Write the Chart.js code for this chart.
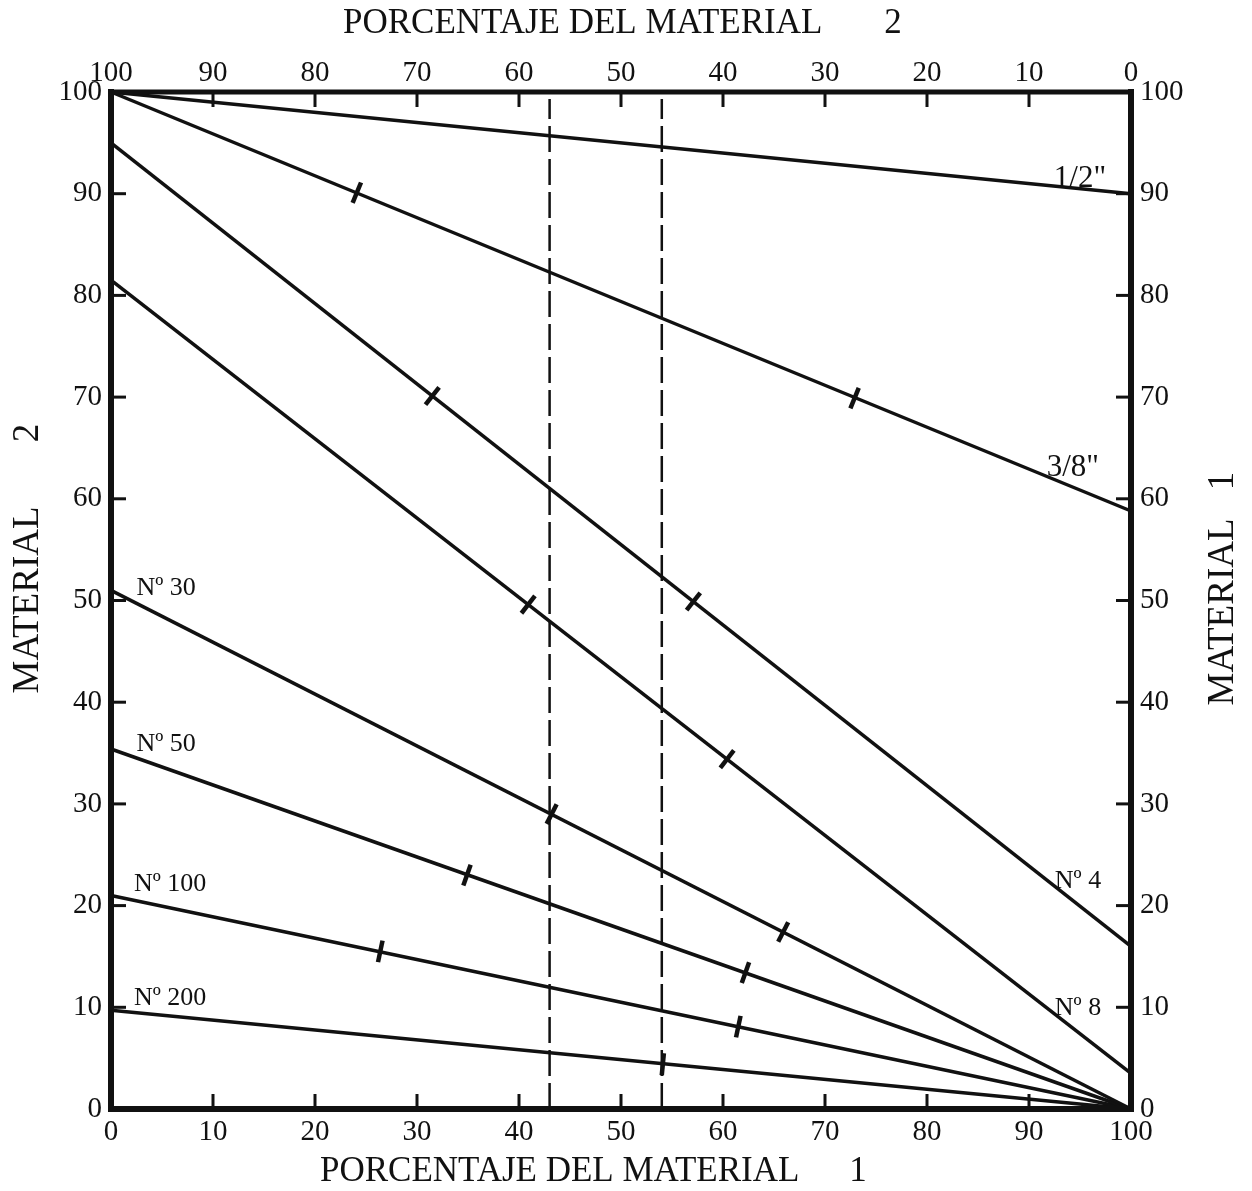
<!DOCTYPE html>
<html>
<head>
<meta charset="utf-8">
<script src="https://cdn.jsdelivr.net/npm/chart.js@4.4.1/dist/chart.umd.min.js"></script>
<style>
  html, body { margin: 0; padding: 0; background: #fff; }
  #chart { display: block; }
</style>
</head>
<body>
<canvas id="chart" width="1252" height="1191"></canvas>
<script>
// Percent scale shared by every axis
const axisTicks = [0, 10, 20, 30, 40, 50, 60, 70, 80, 90, 100];

// Sieves and % passing of the blend: at 0 % of material 1 (left) and at 100 % (right)
const sieves      = ['1/2"', '3/8"', 'Nº 4', 'Nº 8', 'Nº 30', 'Nº 50', 'Nº 100', 'Nº 200'];
const passingLeft  = [100, 100, 95, 81.5, 51, 35.4, 21, 9.7];
const passingRight = [90, 58.8, 16, 3.5, 0, 0, 0, 0];

// Check marks placed on each sieve line (% of material 1, % passing)
const markX = [[], [24.1, 72.9], [31.5, 57.1], [40.9, 60.4], [43.2, 65.9], [34.9, 62.2], [26.4, 61.5], [54.1]];
const markY = [[], [90.1, 69.9], [70.1, 49.9], [49.6, 34.4], [29.0, 17.4], [23.0, 13.4], [15.5, 8.1], [4.4]];

// Limits of the acceptable blend (% of material 1)
const blendLimits = [43, 54];
const limitTop = 99.3;

const INK = '#111';
const SERIF = '"Liberation Serif", "Times New Roman", serif';

// Where each sieve name sits, in axis units
const labelAnchors = [
  [95.0, 91.5], [94.3, 63.0], [94.8, 22.4], [94.8, 9.9],
  [5.4, 51.2], [5.4, 35.9], [5.8, 22.1], [5.8, 10.9]
];
const labelSizes = [31, 31, 26, 26, 26, 26, 26, 26];

const datasets = [];
sieves.forEach((name, i) => {
  datasets.push({
    label: name,
    data: [{ x: 0, y: passingLeft[i] }, { x: 100, y: passingRight[i] }],
    showLine: true,
    borderColor: INK,
    borderWidth: 3.5,
    pointRadius: 0,
    clip: 6
  });
  if (markX[i].length) {
    // short stroke across the line, roughly perpendicular to it
    const drop = Math.atan((passingLeft[i] - passingRight[i]) / 100) * 180 / Math.PI;
    datasets.push({
      label: name + ' marks',
      data: markX[i].map((x, k) => ({ x, y: markY[i][k] })),
      showLine: false,
      pointStyle: 'line',
      rotation: drop - 90,
      pointRadius: 11,
      borderWidth: 4.5,
      borderColor: INK,
      backgroundColor: INK
    });
  }
});
blendLimits.forEach(x => {
  datasets.push({
    label: 'limit ' + x,
    data: [{ x, y: 0 }, { x, y: limitTop }],
    showLine: true,
    borderColor: INK,
    borderWidth: 2.5,
    borderDash: [26, 7],
    pointRadius: 0
  });
});

const tickFont = { family: SERIF, size: 29 };

function axis(position, extra) {
  return Object.assign({
    type: 'linear',
    position,
    min: 0,
    max: 100,
    grid: { display: false, drawTicks: false },
    border: { display: false },
    ticks: { stepSize: 10, font: tickFont, color: INK, autoSkip: false, maxRotation: 0 },
    afterBuildTicks: s => { s.ticks = axisTicks.map(v => ({ value: v })); }
  }, extra);
}

const framePlugin = {
  id: 'frameAndText',
  afterDraw(chart) {
    const { ctx, chartArea: a, scales } = chart;
    const { x, x2, y, y2 } = scales;
    ctx.save();
    ctx.strokeStyle = INK;
    ctx.fillStyle = INK;

    // inward tick marks on all four sides
    ctx.lineWidth = 3;
    const T = 15;
    axisTicks.slice(1, -1).forEach(v => {
      let p = x.getPixelForValue(v);
      ctx.beginPath(); ctx.moveTo(p, a.bottom); ctx.lineTo(p, a.bottom - T); ctx.stroke();
      p = x2.getPixelForValue(v);
      ctx.beginPath(); ctx.moveTo(p, a.top); ctx.lineTo(p, a.top + T); ctx.stroke();
      p = y.getPixelForValue(v);
      ctx.beginPath(); ctx.moveTo(a.left, p); ctx.lineTo(a.left + T, p); ctx.stroke();
      p = y2.getPixelForValue(v);
      ctx.beginPath(); ctx.moveTo(a.right, p); ctx.lineTo(a.right - T, p); ctx.stroke();
    });

    // heavy frame
    ctx.lineCap = 'square';
    ctx.lineWidth = 5;
    ctx.beginPath(); ctx.moveTo(a.left, a.top); ctx.lineTo(a.right, a.top); ctx.stroke();
    ctx.lineWidth = 6;
    ctx.beginPath(); ctx.moveTo(a.left, a.bottom); ctx.lineTo(a.right, a.bottom); ctx.stroke();
    ctx.beginPath(); ctx.moveTo(a.left, a.top); ctx.lineTo(a.left, a.bottom); ctx.stroke();
    ctx.beginPath(); ctx.moveTo(a.right, a.top); ctx.lineTo(a.right, a.bottom); ctx.stroke();

    // sieve names
    ctx.textAlign = 'center';
    ctx.textBaseline = 'middle';
    sieves.forEach((name, i) => {
      ctx.font = labelSizes[i] + 'px ' + SERIF;
      ctx.fillText(name, x.getPixelForValue(labelAnchors[i][0]), y.getPixelForValue(labelAnchors[i][1]));
    });

    // axis titles
    ctx.font = '35px ' + SERIF;
    ctx.textAlign = 'left';
    ctx.fillText('PORCENTAJE DEL MATERIAL', 343, 24);
    ctx.fillText('PORCENTAJE DEL MATERIAL', 320, 1172);
    ctx.textAlign = 'center';
    ctx.fillText('2', 893, 24);
    ctx.fillText('1', 858, 1172);

    ctx.font = '37px ' + SERIF;
    [[28, 600, 433, '2'], [1223, 612, 481, '1']].forEach(([cx, cy, ny, n]) => {
      ctx.save();
      ctx.translate(cx, cy);
      ctx.rotate(-Math.PI / 2);
      ctx.fillText('MATERIAL', 0, 0);
      ctx.restore();
      ctx.save();
      ctx.translate(cx, ny);
      ctx.rotate(-Math.PI / 2);
      ctx.fillText(n, 0, 0);
      ctx.restore();
    });
    ctx.restore();
  }
};

new Chart(document.getElementById('chart'), {
  type: 'scatter',
  data: { datasets },
  options: {
    responsive: false,
    animation: false,
    devicePixelRatio: 1,
    layout: { padding: 0 },
    plugins: { legend: { display: false }, tooltip: { enabled: false } },
    scales: {
      x: axis('bottom', { afterFit: s => { s.height = 82; } }),
      x2: axis('top', { reverse: true, afterFit: s => { s.height = 92; } }),
      y: axis('left', { afterFit: s => { s.width = 111; } }),
      y2: axis('right', { afterFit: s => { s.width = 121; } })
    }
  },
  plugins: [framePlugin]
});

// tick label spacing from the frame
const ch = Chart.getChart('chart');
ch.options.scales.x.ticks.padding = 6;
ch.options.scales.x2.ticks.padding = 1;
ch.options.scales.y.ticks.padding = 9;
ch.options.scales.y2.ticks.padding = 9;
ch.update();
</script>
</body>
</html>
